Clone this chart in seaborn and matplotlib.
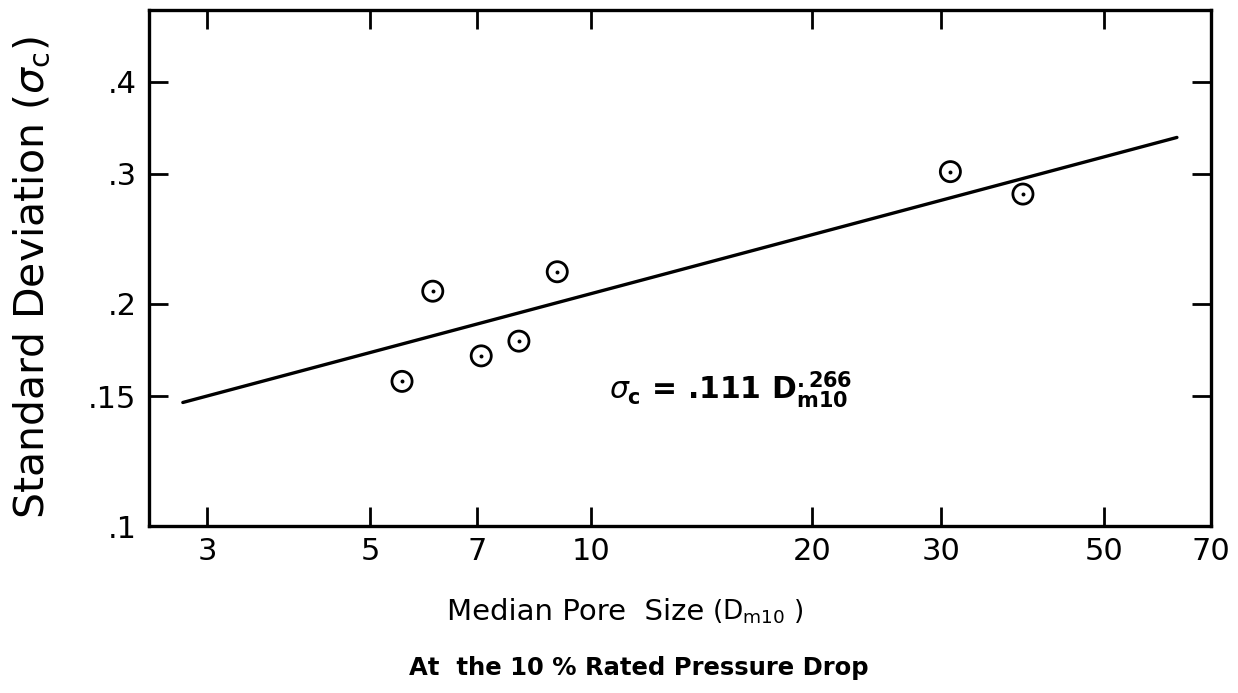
import matplotlib
matplotlib.use("Agg")
import numpy as np
import pandas as pd
import matplotlib.pyplot as plt
import seaborn as sns
from matplotlib.ticker import FixedLocator, FixedFormatter, NullLocator

# ---- data ----
pore_size = [5.53, 6.09, 7.09, 7.98, 9.0, 30.9, 38.8]          # D_m10
std_dev = [0.157, 0.208, 0.170, 0.178, 0.221, 0.302, 0.2816]    # sigma_c
fit_x = [2.78, 62.9]
fit_y = [0.147, 0.336]
x_ticks = [3, 5, 7, 10, 20, 30, 50, 70]
x_tick_labels = ["3", "5", "7", "10", "20", "30", "50", "70"]
y_ticks = [0.1, 0.15, 0.2, 0.3, 0.4]
y_tick_labels = [".1", ".15", ".2", ".3", ".4"]

sns.set_theme(style="ticks")
FONT = "DejaVu Sans"
plt.rcParams["font.family"] = [FONT]
plt.rcParams["mathtext.fontset"] = "dejavusans"
plt.rcParams["text.color"] = "black"
plt.rcParams["axes.labelcolor"] = "black"
plt.rcParams["xtick.color"] = "black"
plt.rcParams["ytick.color"] = "black"

W, H = 1238, 693
fig = plt.figure(figsize=(W / 100, H / 100), dpi=100)
ax = fig.add_axes([149 / W, 167 / H, 1062 / W, 516 / H])

pts = pd.DataFrame({"x": pore_size, "y": std_dev})
fit = pd.DataFrame({"x": fit_x, "y": fit_y})

sns.lineplot(data=fit, x="x", y="y", ax=ax, color="black", linewidth=2.4)
sns.scatterplot(data=pts, x="x", y="y", ax=ax, marker="o", s=210,
                facecolor="none", edgecolor="black", linewidth=2.0, zorder=3)
sns.scatterplot(data=pts, x="x", y="y", ax=ax, marker="o", s=8,
                color="black", edgecolor="black", linewidth=0, zorder=4)

ax.set_xscale("log")
ax.set_yscale("log")
ax.set_xlim(2.5, 70)
ax.set_ylim(0.1, 0.5)
ax.xaxis.set_major_locator(FixedLocator(x_ticks))
ax.xaxis.set_major_formatter(FixedFormatter(x_tick_labels))
ax.xaxis.set_minor_locator(NullLocator())
ax.yaxis.set_major_locator(FixedLocator(y_ticks))
ax.yaxis.set_major_formatter(FixedFormatter(y_tick_labels))
ax.yaxis.set_minor_locator(NullLocator())

ax.tick_params(axis="both", which="major", direction="in", length=14, width=2.0,
               top=True, right=True, labelsize=22, colors="black")
ax.tick_params(axis="x", pad=8)
ax.tick_params(axis="y", pad=9)
for s in ax.spines.values():
    s.set_linewidth(2.4)
    s.set_color("black")
    s.set_visible(True)
ax.set_xlabel("")
ax.set_ylabel("")

# equation
ax.text(10.6, 0.153, r"$\sigma_{\mathbf{c}}$ = .111 D$_{\mathbf{m10}}^{\mathbf{.266}}$",
        fontsize=21.5, fontweight="bold", ha="left", va="center")

# axis titles
fig.text(32 / W, 1 - 278 / H, r"Standard Deviation ($\sigma_{\mathrm{c}}$)",
         rotation=90, fontsize=29.5, ha="center", va="center")
fig.text(447 / W, 1 - 612 / H, "Median Pore  Size",
         fontsize=21, ha="left", va="center")
fig.text(712 / W, 1 - 612 / H, r"(D$_{\mathrm{m10}}$ )",
         fontsize=19, ha="left", va="center")
fig.text(639 / W, 1 - 668 / H, "At  the 10 % Rated Pressure Drop",
         fontsize=17.5, fontweight="bold", ha="center", va="center")

fig.savefig("out.png", dpi=100)
